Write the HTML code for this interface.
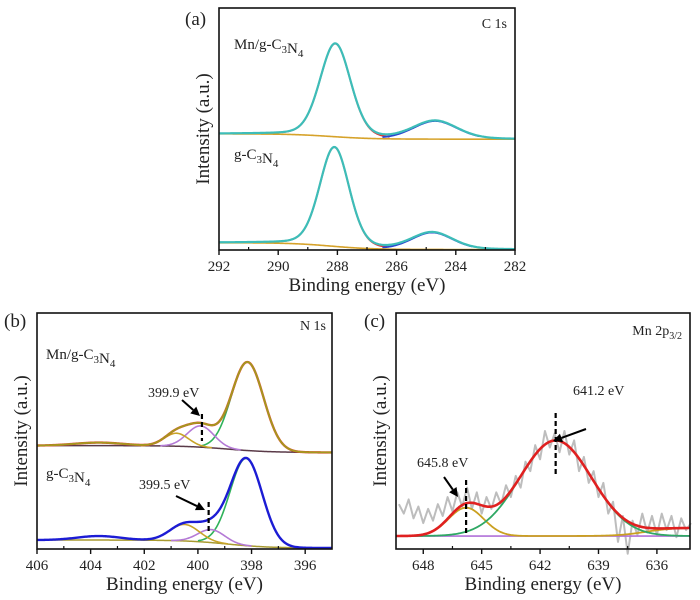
<!DOCTYPE html>
<html><head><meta charset="utf-8">
<style>
html,body{margin:0;padding:0;background:#fff;}
svg{display:block;font-family:"Liberation Serif","DejaVu Serif",serif;}
</style></head>
<body>
<svg id="fig" width="700" height="600" viewBox="0 0 700 600" xmlns="http://www.w3.org/2000/svg"></svg>
<script>
// ---------- DATA ----------
// Panel (a) C 1s
const aTicks = [292,290,288,286,284,282];
const aMnCenters = [288.07, 284.7];
const aMnHeights = [38.5, 7.5];
const aMnSigmas = [0.52, 0.75];
const aMnBg = [48, 45.8];
const aGCenters = [288.1, 284.8];
const aGHeights = [41, 7];
const aGSigmas = [0.5, 0.7];
const aGBg = [3, 0.2];
// Panel (b) N 1s
const bTicks = [406,404,402,400,398,396];
const bMnCenters = [398.15, 399.9, 400.8, 403.7];
const bMnHeights = [37.5, 9, 5.5, 1.3];
const bMnSigmas = [0.6, 0.5, 0.45, 0.9];
const bMnBg = [43.8, 40.9];
const bGCenters = [398.2, 399.5, 400.5, 403.7];
const bGHeights = [37, 5.5, 7, 1.7];
const bGSigmas = [0.6, 0.5, 0.55, 0.8];
const bGBg = [3.8, 0.4];
// Panel (c) Mn 2p3/2
const cTicks = [648,645,642,639,636];
const cCenters = [645.8, 641.2];
const cHeights = [12, 40.5];
const cSigmas = [0.9, 1.85];
const cBg = [5.5, 9.0];
const cRawE = [649.25,649,648.75,648.5,648.25,648,647.75,647.5,647.25,647,646.75,646.5,646.25,646,645.75,645.5,645.25,645,644.75,644.5,644.25,644,643.75,643.5,643.25,643,642.75,642.5,642.25,642,641.75,641.5,641.25,641,640.75,640.5,640.25,640,639.75,639.5,639.25,639,638.75,638.5,638.25,638,637.75,637.5,637.25,637,636.75,636.5,636.25,636,635.75,635.5,635.25,635,634.75,634.5,634.25];
const cRawI = [19,15,21,13,18,11,17,12,19,14,22,16,24,18,26,17,24,15,22,17,24,19,27,22,31,26,37,33,44,38,50,43,49,41,50,40,46,33,39,28,33,22,28,15,20,3,14,-2,12,6,15,7,14,6,15,8,14,5,13,8,11];

// ---------- HELPERS ----------
const NS = "http://www.w3.org/2000/svg";
const svg = document.getElementById('fig');
function mk(tag, attrs, parent){
  const e = document.createElementNS(NS, tag);
  for (const k in attrs) e.setAttribute(k, attrs[k]);
  (parent||svg).appendChild(e);
  return e;
}
function gauss(E,c,h,s){ return h*Math.exp(-(E-c)*(E-c)/(2*s*s)); }
function pv(E,c,h,s){ const g=Math.exp(-(E-c)*(E-c)/(2*s*s)); const w=s*1.177; const l=1/(1+((E-c)/w)*((E-c)/w)); return h*(0.8*g+0.2*l); }
function sig(z){ return 1/(1+Math.exp(-z)); }

function makePanel(p){
  const sx = E => p.x0 + (p.xmin - E)/(p.xmin - p.xmax)*(p.x1 - p.x0);
  const sy = v => p.y1 - v/100*(p.y1 - p.y0);
  return {sx, sy, p};
}
// lo/hi restrict drawn energy range (optional)
function poly(P, fn, color, w, name, lo, hi){
  let d = '';
  const n = Math.round((P.p.xmin - P.p.xmax)/0.04);
  let started=false;
  for (let i=0;i<=n;i++){
    const E = P.p.xmin - i*(P.p.xmin - P.p.xmax)/n;
    if (lo!==undefined && (E<lo || E>hi)) continue;
    d += (started?'L':'M') + P.sx(E).toFixed(2) + ',' + P.sy(fn(E)).toFixed(2);
    started=true;
  }
  const el = mk('path', {d, fill:'none', stroke:color, 'stroke-width':w, 'stroke-linejoin':'round'});
  
  
  return el;
}
function frame(P, ticks, name){
  const p = P.p;
  const g = mk('g', {});
  
  
  const r = mk('rect', {x:p.x0, y:p.y0, width:p.x1-p.x0, height:p.y1-p.y0, fill:'none', stroke:'#111', 'stroke-width':1.6}, g);
  
  
  ticks.forEach(t=>{
    const x = P.sx(t);
    mk('line', {x1:x, x2:x, y1:p.y1, y2:p.y1+5, stroke:'#111', 'stroke-width':1.4}, g);
    const tx = mk('text', {x:x, y:p.y1+21, 'font-size':15, 'text-anchor':'middle', fill:'#222'}, g);
    tx.textContent = t;
    
    
  });
  for (let i=0;i<ticks.length-1;i++){
    const m = (ticks[i]+ticks[i+1])/2;
    const x = P.sx(m);
    mk('line', {x1:x, x2:x, y1:p.y1, y2:p.y1-3, stroke:'#111', 'stroke-width':1.2}, g);
  }
  const xt = mk('text', {x:(p.x0+p.x1)/2, y:p.y1+41, 'font-size':19, 'text-anchor':'middle', fill:'#222'}, g);
  xt.textContent = 'Binding energy (eV)';
  
  
  const yx = p.x0 - 10, yy = (p.y0+p.y1)/2;
  const yt = mk('text', {x:yx, y:yy, 'font-size':19, 'text-anchor':'middle', fill:'#222', transform:`rotate(-90 ${yx} ${yy})`}, g);
  yt.textContent = 'Intensity (a.u.)';
  
  
}
function label(x,y,html,size,name,anchor){
  const t = mk('text', {x, y, 'font-size':size, fill:'#222', 'text-anchor':anchor||'start'});
  t.innerHTML = html;
  
  
  return t;
}
function arrow(x1,y1,x2,y2,name){
  const g = mk('g', {});
  
  
  const a = Math.atan2(y2-y1, x2-x1);
  const hl = 9, hw = 4.5;
  const bx = x2 - hl*Math.cos(a), by = y2 - hl*Math.sin(a);
  mk('line', {x1, y1, x2:bx, y2:by, stroke:'#000', 'stroke-width':2}, g);
  mk('polygon', {points:`${x2},${y2} ${bx+hw*Math.sin(a)},${by-hw*Math.cos(a)} ${bx-hw*Math.sin(a)},${by+hw*Math.cos(a)}`, fill:'#000'}, g);
}
function dash(x,ya,yb,name){
  const l = mk('line', {x1:x, x2:x, y1:ya, y2:yb, stroke:'#000', 'stroke-width':2.2, 'stroke-dasharray':'5,3'});
  
  
}
const SUB = n => `<tspan font-size="11" dy="4">${n}</tspan><tspan dy="-4">`;
const CN = `g-C${SUB(3)}</tspan>N${SUB(4)}</tspan>`;

// ---------- PANEL A ----------
{
  const P = makePanel({x0:219, x1:515, y0:8, y1:250, xmin:292, xmax:282});
  const spectra = [
    {c:aMnCenters,h:aMnHeights,s:aMnSigmas,bg:aMnBg,n:'mn'},
    {c:aGCenters,h:aGHeights,s:aGSigmas,bg:aGBg,n:'gcn'}];
  spectra.forEach(S=>{
    const bg = E => S.bg[1] + (S.bg[0]-S.bg[1])*sig((E-288.2)/0.7);
    const c0 = E => pv(E,S.c[0],S.h[0],S.s[0]);
    const c1 = E => pv(E,S.c[1],S.h[1],S.s[1]);
    poly(P, E=>bg(E)+c0(E), '#e03535', 1.8, 'c1s-'+S.n+'-peak-1', S.c[0]-3*S.s[0]-0.3, S.c[0]+3.5*S.s[0]);
    poly(P, E=>bg(E)+c1(E), '#2a45d0', 1.8, 'c1s-'+S.n+'-peak-2', S.c[1]-2*S.s[1], S.c[1]+2.4*S.s[1]);
    poly(P, bg, '#d6a22a', 1.6, 'c1s-'+S.n+'-background');
    poly(P, E=>bg(E)+c0(E)+c1(E), '#3dbdb8', 2.2, 'c1s-'+S.n+'-envelope');
  });
  frame(P, aTicks, 'panel-a');
  label(185, 25, '(a)', 19, 'panel-a-label');
  label(507, 28, 'C 1s', 14, 'c1s-title', 'end');
  label(234, 49, `Mn/${CN}`, 15, 'mn-gcn-label');
  label(234, 159, CN, 15, 'gcn-label');
}

// ---------- PANEL B ----------
{
  const P = makePanel({x0:37, x1:332, y0:313, y1:549, xmin:406, xmax:395});
  const spectra = [
    {c:bMnCenters,h:bMnHeights,s:bMnSigmas,bg:bMnBg,n:'mn',env:'#a29a1e',bgc:'#5a3a48'},
    {c:bGCenters,h:bGHeights,s:bGSigmas,bg:bGBg,n:'gcn',env:'#1c1cd4',bgc:'#a89a30'}];
  spectra.forEach(S=>{
    const bg = E => S.bg[1] + (S.bg[0]-S.bg[1])*sig((E-398.9)/0.8);
    const comp = (E,i) => gauss(E,S.c[i],S.h[i],S.s[i]);
    const rng = i => [S.c[i]-3*S.s[i], S.c[i]+3*S.s[i]];
    poly(P, bg, S.bgc, 1.5, 'n1s-'+S.n+'-background');
    poly(P, E=>bg(E)+comp(E,0), '#2fb25a', 1.6, 'n1s-'+S.n+'-peak-398', ...rng(0));
    poly(P, E=>bg(E)+comp(E,1), '#b47ad6', 1.6, 'n1s-'+S.n+'-peak-399', ...rng(1));
    poly(P, E=>bg(E)+comp(E,2), '#c8a428', 1.6, 'n1s-'+S.n+'-peak-400', ...rng(2));
    if (S.n==='mn') poly(P, E=>bg(E)+comp(E,0)+comp(E,1)+comp(E,2)+comp(E,3), '#e84030', 2.4, 'n1s-mn-fit');
    poly(P, E=>bg(E)+comp(E,0)+comp(E,1)+comp(E,2)+comp(E,3), S.env, S.n==='mn'?1.8:2.4, 'n1s-'+S.n+'-envelope');
  });
  frame(P, bTicks, 'panel-b');
  label(4, 327, '(b)', 19, 'panel-b-label');
  label(326, 330, 'N 1s', 14, 'n1s-title', 'end');
  label(46, 359, `Mn/${CN}`, 15, 'mn-gcn-label-b');
  label(46, 478, CN, 15, 'gcn-label-b');
  label(148, 397, '399.9 eV', 14, 'annot-399-9');
  label(139, 489, '399.5 eV', 14, 'annot-399-5');
  dash(P.sx(399.85), 414, 441, 'marker-399-9');
  dash(P.sx(399.6), 502, 534, 'marker-399-5');
  arrow(182, 400, 200, 416, 'arrow-399-9');
  arrow(176, 496, 205, 510, 'arrow-399-5');
}

// ---------- PANEL C ----------
{
  const P = makePanel({x0:396, x1:690, y0:313, y1:549, xmin:649.4, xmax:634.3});
  const bg = E => cBg[0] + (cBg[1]-cBg[0])*sig((636.6-E)/0.7);
  let d='';
  cRawE.forEach((E,i)=>{ d += (i?'L':'M') + P.sx(E).toFixed(2)+','+P.sy(cRawI[i]).toFixed(2); });
  const raw = mk('path', {d, fill:'none', stroke:'#bdbdbd', 'stroke-width':2, 'stroke-linejoin':'round'});
  
  
  poly(P, E=>cBg[0], '#b070d8', 1.6, 'mn2p-baseline');
  poly(P, E=>bg(E)+gauss(E,cCenters[0],cHeights[0],cSigmas[0]), '#caa020', 1.8, 'mn2p-peak-645');
  poly(P, E=>cBg[0]+gauss(E,cCenters[1],cHeights[1],cSigmas[1]), '#2fa864', 1.8, 'mn2p-peak-641');
  poly(P, E=>bg(E)+gauss(E,cCenters[0],cHeights[0],cSigmas[0])+gauss(E,cCenters[1],cHeights[1],cSigmas[1]), '#e02020', 2.6, 'mn2p-envelope');
  frame(P, cTicks, 'panel-c');
  label(364, 327, '(c)', 19, 'panel-c-label');
  label(682, 335, 'Mn 2p<tspan font-size="10" dy="4">3/2</tspan>', 14, 'mn2p-title', 'end');
  label(573, 395, '641.2 eV', 14, 'annot-641-2');
  label(417, 467, '645.8 eV', 14, 'annot-645-8');
  dash(P.sx(641.2), 413, 474, 'marker-641-2');
  dash(P.sx(645.8), 480, 534, 'marker-645-8');
  arrow(586, 429, 553, 441, 'arrow-641-2');
  arrow(444, 477, 458, 497, 'arrow-645-8');
}
</script>
</body></html>
